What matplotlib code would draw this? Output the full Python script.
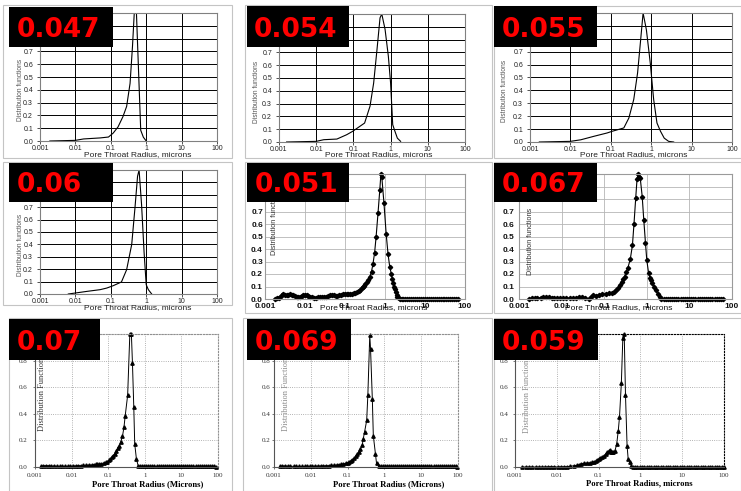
import matplotlib
matplotlib.use("Agg")
import matplotlib.pyplot as plt
from matplotlib.patches import Rectangle
from matplotlib.ticker import NullLocator

# ---------------- data ----------------
x_ticks = [0.001, 0.01, 0.1, 1, 10, 100]
x_ticklabels = ["0.001", "0.01", "0.1", "1", "10", "100"]
panel_labels = ["0.047", "0.054", "0.055", "0.06", "0.051", "0.067", "0.07", "0.069", "0.059"]

p047_x = [0.0019, 0.01, 0.017, 0.05, 0.086, 0.117, 0.16, 0.22, 0.28, 0.35, 0.41, 0.46, 0.53, 0.70, 0.83, 1.0]
p047_y = [0.0, 0.005, 0.016, 0.024, 0.031, 0.062, 0.11, 0.19, 0.27, 0.45, 0.74, 1.0, 1.0, 0.084, 0.03, 0.0]

p054_x = [0.0016, 0.01, 0.016, 0.036, 0.066, 0.095, 0.2, 0.28, 0.35, 0.43, 0.52, 0.58, 0.71, 0.87, 1.0, 1.14, 1.31, 1.52, 1.86]
p054_y = [0.0, 0.005, 0.018, 0.023, 0.057, 0.083, 0.148, 0.28, 0.46, 0.72, 0.97, 1.0, 0.88, 0.67, 0.46, 0.135, 0.083, 0.03, 0.005]

p055_x = [0.0017, 0.01, 0.018, 0.038, 0.081, 0.108, 0.21, 0.28, 0.37, 0.46, 0.54, 0.63, 0.76, 0.95, 1.15, 1.39, 1.7, 2.1, 2.7, 3.6]
p055_y = [0.0, 0.005, 0.017, 0.044, 0.07, 0.083, 0.109, 0.186, 0.33, 0.535, 0.77, 1.0, 0.87, 0.61, 0.33, 0.147, 0.083, 0.03, 0.005, 0.0]

p06_x = [0.0063, 0.01, 0.021, 0.05, 0.077, 0.117, 0.2, 0.28, 0.39, 0.48, 0.57, 0.63, 0.74, 0.87, 1.0, 1.15, 1.43]
p06_y = [0.0, 0.008, 0.021, 0.035, 0.048, 0.067, 0.097, 0.196, 0.4, 0.69, 0.95, 1.0, 0.72, 0.34, 0.075, 0.035, 0.0]

p051_pts = [(0.0018, 0.0), (0.002, 0.005), (0.0022, 0.01), (0.0024, 0.02), (0.0026, 0.03), (0.0029, 0.04),
            (0.0032, 0.035), (0.0035, 0.03), (0.0038, 0.035), (0.0042, 0.04), (0.0046, 0.035), (0.005, 0.03),
            (0.0056, 0.025), (0.0062, 0.02), (0.0068, 0.02), (0.0075, 0.02), (0.0082, 0.025), (0.009, 0.03),
            (0.01, 0.035), (0.011, 0.03), (0.012, 0.025), (0.013, 0.02), (0.015, 0.015), (0.017, 0.01),
            (0.019, 0.01), (0.021, 0.015), (0.024, 0.02), (0.027, 0.02), (0.03, 0.02), (0.034, 0.02),
            (0.038, 0.025), (0.042, 0.03), (0.047, 0.03), (0.052, 0.03), (0.058, 0.025), (0.064, 0.025),
            (0.071, 0.03), (0.08, 0.035), (0.09, 0.04), (0.1, 0.04), (0.11, 0.04), (0.12, 0.04),
            (0.135, 0.04), (0.15, 0.04), (0.165, 0.045), (0.18, 0.05), (0.2, 0.055), (0.22, 0.065),
            (0.24, 0.075), (0.26, 0.085), (0.28, 0.095), (0.3, 0.105), (0.32, 0.12), (0.35, 0.135),
            (0.38, 0.155), (0.42, 0.18), (0.46, 0.22), (0.5, 0.28), (0.55, 0.37), (0.6, 0.5),
            (0.67, 0.69), (0.74, 0.87), (0.79, 1.0), (0.83, 0.98), (0.94, 0.77), (1.07, 0.52),
            (1.19, 0.36), (1.31, 0.26), (1.44, 0.2), (1.52, 0.16), (1.6, 0.13), (1.68, 0.1),
            (1.76, 0.08), (1.85, 0.055), (1.95, 0.035), (2.05, 0.02), (2.2, 0.01), (2.4, 0.0),
            (2.6, 0.0), (2.9, 0.0), (3.2, 0.0), (3.6, 0.0), (4.0, 0.0), (4.5, 0.0), (5.0, 0.0),
            (5.6, 0.0), (6.3, 0.0), (7.0, 0.0), (7.9, 0.0), (8.8, 0.0), (9.9, 0.0), (11.0, 0.0),
            (12.4, 0.0), (13.9, 0.0), (15.5, 0.0), (17.4, 0.0), (19.5, 0.0), (21.8, 0.0), (24.5, 0.0),
            (27.4, 0.0), (30.7, 0.0), (34.4, 0.0), (38.5, 0.0), (43.1, 0.0), (48.3, 0.0), (54.1, 0.0),
            (60.6, 0.0), (68.0, 0.0)]

p067_pts = [(0.0017, 0.0), (0.002, 0.005), (0.0024, 0.005), (0.0027, 0.005), (0.0032, 0.01), (0.0037, 0.015),
            (0.0042, 0.02), (0.005, 0.015), (0.0058, 0.01), (0.0065, 0.01), (0.0078, 0.008), (0.009, 0.008),
            (0.011, 0.005), (0.013, 0.005), (0.016, 0.005), (0.019, 0.005), (0.022, 0.008), (0.026, 0.015),
            (0.03, 0.02), (0.036, 0.01), (0.043, 0.0), (0.05, 0.02), (0.055, 0.03), (0.065, 0.025),
            (0.075, 0.035), (0.09, 0.04), (0.11, 0.04), (0.13, 0.045), (0.15, 0.045), (0.17, 0.06),
            (0.19, 0.075), (0.21, 0.09), (0.23, 0.11), (0.26, 0.14), (0.28, 0.16), (0.3, 0.18),
            (0.33, 0.22), (0.36, 0.25), (0.41, 0.32), (0.46, 0.43), (0.5, 0.6), (0.55, 0.81),
            (0.59, 0.96), (0.63, 1.0), (0.66, 0.98), (0.7, 0.97), (0.78, 0.82), (0.85, 0.63),
            (0.93, 0.45), (1.0, 0.31), (1.1, 0.21), (1.18, 0.17), (1.25, 0.15), (1.35, 0.13),
            (1.5, 0.1), (1.65, 0.07), (1.8, 0.04), (2.0, 0.015), (2.2, 0.0), (2.5, 0.0), (2.8, 0.0),
            (3.1, 0.0), (3.5, 0.0), (3.9, 0.0), (4.4, 0.0), (4.9, 0.0), (5.5, 0.0), (6.2, 0.0),
            (6.9, 0.0), (7.8, 0.0), (8.7, 0.0), (9.8, 0.0), (11.0, 0.0), (12.3, 0.0), (13.8, 0.0),
            (15.5, 0.0), (17.4, 0.0), (19.5, 0.0), (21.9, 0.0), (24.6, 0.0), (27.6, 0.0), (31.0, 0.0),
            (34.8, 0.0), (39.0, 0.0), (43.8, 0.0), (49.1, 0.0), (55.1, 0.0), (62.0, 0.0)]

p07_pts = [(0.0015, 0.005), (0.0017, 0.01), (0.002, 0.01), (0.0024, 0.01), (0.0028, 0.005), (0.0033, 0.008),
           (0.004, 0.005), (0.0047, 0.005), (0.0056, 0.005), (0.0066, 0.005), (0.0078, 0.005), (0.0093, 0.005),
           (0.011, 0.008), (0.013, 0.008), (0.015, 0.01), (0.018, 0.01), (0.021, 0.012), (0.025, 0.012),
           (0.03, 0.015), (0.035, 0.015), (0.04, 0.018), (0.045, 0.02), (0.05, 0.02), (0.057, 0.022),
           (0.065, 0.025), (0.075, 0.03), (0.085, 0.035), (0.095, 0.04), (0.105, 0.05), (0.115, 0.06),
           (0.125, 0.075), (0.135, 0.085), (0.15, 0.1), (0.165, 0.12), (0.18, 0.14), (0.2, 0.16),
           (0.22, 0.19), (0.245, 0.23), (0.27, 0.3), (0.29, 0.38), (0.34, 0.54), (0.39, 1.0),
           (0.43, 1.0), (0.46, 0.78), (0.5, 0.45), (0.53, 0.175), (0.59, 0.06), (0.66, 0.01),
           (0.75, 0.005), (0.85, 0.005), (0.97, 0.005), (1.1, 0.005), (1.25, 0.005), (1.42, 0.005),
           (1.62, 0.005), (1.84, 0.005), (2.1, 0.005), (2.4, 0.005), (2.7, 0.005), (3.1, 0.005),
           (3.5, 0.005), (4.0, 0.005), (4.5, 0.005), (5.2, 0.005), (5.9, 0.005), (6.7, 0.005),
           (7.6, 0.005), (8.7, 0.005), (9.9, 0.005), (11.2, 0.005), (12.8, 0.005), (14.5, 0.005),
           (16.5, 0.005), (18.8, 0.005), (21.4, 0.005), (24.3, 0.005), (27.6, 0.005), (31.4, 0.005),
           (35.7, 0.005), (40.6, 0.005), (46.2, 0.005), (52.5, 0.005), (59.7, 0.005), (67.9, 0.005),
           (77.2, 0.005), (87.8, 0.003)]

p069_pts = [(0.0015, 0.005), (0.0017, 0.008), (0.002, 0.008), (0.0024, 0.006), (0.0028, 0.005), (0.0034, 0.005),
            (0.004, 0.004), (0.0048, 0.004), (0.0057, 0.004), (0.0068, 0.004), (0.008, 0.005), (0.0095, 0.005),
            (0.011, 0.006), (0.013, 0.006), (0.016, 0.007), (0.019, 0.008), (0.022, 0.008), (0.026, 0.01),
            (0.031, 0.01), (0.036, 0.012), (0.042, 0.012), (0.05, 0.015), (0.058, 0.017), (0.067, 0.02),
            (0.077, 0.023), (0.088, 0.028), (0.1, 0.033), (0.11, 0.038), (0.12, 0.045), (0.135, 0.055),
            (0.15, 0.065), (0.165, 0.08), (0.18, 0.095), (0.2, 0.115), (0.22, 0.135), (0.25, 0.165),
            (0.265, 0.21), (0.29, 0.265), (0.33, 0.35), (0.355, 0.54), (0.40, 0.99), (0.42, 0.89),
            (0.47, 0.51), (0.50, 0.235), (0.57, 0.1), (0.61, 0.03), (0.71, 0.005), (0.8, 0.005),
            (0.9, 0.005), (1.02, 0.005), (1.16, 0.005), (1.32, 0.005), (1.5, 0.005), (1.7, 0.005),
            (1.93, 0.005), (2.2, 0.005), (2.5, 0.005), (2.8, 0.005), (3.2, 0.005), (3.6, 0.005),
            (4.1, 0.005), (4.7, 0.005), (5.3, 0.005), (6.0, 0.005), (6.8, 0.005), (7.8, 0.005),
            (8.8, 0.005), (10.0, 0.005), (11.4, 0.005), (12.9, 0.005), (14.7, 0.005), (16.7, 0.005),
            (19.0, 0.005), (21.6, 0.005), (24.5, 0.005), (27.9, 0.005), (31.7, 0.005), (36.0, 0.005),
            (41.0, 0.005), (46.6, 0.005), (53.0, 0.005), (60.3, 0.005), (68.5, 0.005), (77.9, 0.005),
            (88.5, 0.005), (96.0, 0.003)]

p059_pts = [(0.0015, 0.0), (0.0018, 0.0), (0.0022, 0.0), (0.0026, 0.0), (0.0031, 0.0), (0.0037, 0.0),
            (0.0044, 0.0), (0.0052, 0.0), (0.0062, 0.002), (0.0074, 0.003), (0.0088, 0.002), (0.0105, 0.0),
            (0.0125, 0.002), (0.015, 0.002), (0.018, 0.003), (0.021, 0.005), (0.026, 0.01), (0.03, 0.012),
            (0.034, 0.015), (0.038, 0.025), (0.045, 0.028), (0.054, 0.03), (0.062, 0.032), (0.07, 0.035),
            (0.078, 0.04), (0.086, 0.045), (0.094, 0.05), (0.1, 0.06), (0.11, 0.07), (0.12, 0.075),
            (0.135, 0.085), (0.15, 0.1), (0.16, 0.11), (0.175, 0.12), (0.19, 0.13), (0.2, 0.11),
            (0.21, 0.11), (0.225, 0.115), (0.245, 0.12), (0.27, 0.17), (0.295, 0.27), (0.316, 0.375),
            (0.35, 0.63), (0.38, 0.97), (0.41, 1.0), (0.44, 0.54), (0.48, 0.16), (0.51, 0.06),
            (0.56, 0.04), (0.61, 0.01), (0.66, 0.0), (0.75, 0.0), (0.85, 0.0), (0.97, 0.0), (1.1, 0.0),
            (1.25, 0.0), (1.42, 0.0), (1.62, 0.0), (1.84, 0.0), (2.1, 0.0), (2.4, 0.0), (2.7, 0.0),
            (3.1, 0.0), (3.5, 0.0), (4.0, 0.0), (4.5, 0.0), (5.2, 0.0), (5.9, 0.0), (6.7, 0.0),
            (7.6, 0.0), (8.7, 0.0), (9.9, 0.0), (11.2, 0.0), (12.8, 0.0), (14.5, 0.0), (16.5, 0.0),
            (18.8, 0.0), (21.4, 0.0), (24.3, 0.0), (27.6, 0.0), (31.4, 0.0), (35.7, 0.0), (40.6, 0.0),
            (46.2, 0.0), (52.5, 0.0), (59.7, 0.0), (67.9, 0.0), (77.2, 0.0), (87.8, 0.0), (99.0, 0.0)]

# ---------------- layout ----------------
W, H = 741, 491
fig = plt.figure(figsize=(W / 100, H / 100), dpi=100)
fig.patch.set_facecolor("white")

SANS = ["Liberation Sans", "DejaVu Sans"]
SERIF = ["Liberation Serif", "DejaVu Serif"]


def unzip(pts):
    return [p[0] for p in pts], [p[1] for p in pts]


specs = [
    dict(lbl=0, x=p047_x, y=p047_y, st="A", box=(40, 13, 217, 141), frame=(3, 5, 232, 158),
         tag=(9, 7, 113, 47), tx=17, ylab=(20, 90), xlab=(138, 155), ypad=3.0),
    dict(lbl=1, x=p054_x, y=p054_y, st="A", box=(279, 14, 465, 142), frame=(245, 5, 492, 158),
         tag=(247, 6, 349, 47), tx=254, ylab=(256, 92), xlab=(379, 155), ypad=3.0),
    dict(lbl=2, x=p055_x, y=p055_y, st="A", box=(530, 13, 732, 142), frame=(494, 6, 741, 158),
         tag=(494, 6, 597, 47), tx=502, ylab=(504, 91), xlab=(634, 155), ypad=3.0),
    dict(lbl=3, x=p06_x, y=p06_y, st="A", box=(40, 170, 217, 294), frame=(3, 162, 232, 305),
         tag=(9, 163, 113, 202), tx=17, ylab=(20, 245), xlab=(138, 308), ypad=3.0),
    dict(lbl=4, pts=p051_pts, st="B", box=(265, 174, 465, 299), frame=(245, 162, 492, 313),
         tag=(247, 163, 349, 202), tx=255, ylabb=(275, 255), xlab=(374, 308), ypad=1.5),
    dict(lbl=5, pts=p067_pts, st="B", box=(519, 174, 732, 299), frame=(494, 162, 741, 313),
         tag=(494, 163, 597, 202), tx=502, ylabb=(530, 275), xlab=(619, 308), ypad=3.0),
    dict(lbl=6, pts=p07_pts, st="C", box=(35, 334, 218, 467), frame=(9, 318, 232, 491),
         tag=(9, 319, 100, 360), tx=17, ylabs=(42, 393, "Distribution Functions", "#333333"),
         xlab=(148, 484, "Pore Throat Radius (Microns)"), ypad=4.0),
    dict(lbl=7, pts=p069_pts, st="C", box=(274, 334, 458, 467), frame=(243, 318, 492, 491),
         tag=(247, 319, 351, 360), tx=255, ylabs=(286, 393, "Distribution Functions", "#8a8a8a"),
         xlab=(389, 484, "Pore Throat Radius (Microns)"), ypad=1.0),
    dict(lbl=8, pts=p059_pts, st="C", box=(515, 334, 724, 467), frame=(494, 318, 741, 491),
         tag=(494, 319, 598, 360), tx=502, ylabs=(527, 396, "Distribution Function", "#8a8a8a"),
         xlab=(639, 483, "Pore Throat Radius, microns"), ypad=3.0, dark_border=True),
]

ov = fig.add_axes([0, 0, 1, 1], zorder=10)
ov.set_xlim(0, W)
ov.set_ylim(H, 0)
ov.axis("off")
ov.patch.set_alpha(0)

for s in specs:
    l, t, r, b = s["box"]
    ax = fig.add_axes([l / W, 1 - b / H, (r - l) / W, (b - t) / H])
    ax.set_xscale("log")
    ax.set_xlim(1e-3, 100)
    ax.set_ylim(0, 1.0)
    ax.set_xticks(x_ticks)
    ax.set_xticklabels(x_ticklabels)
    ax.xaxis.set_minor_locator(NullLocator())
    ax.set_axisbelow(True)
    st = s["st"]
    if st == "A":
        yt = [i / 10 for i in range(11)]
        ax.set_yticks(yt)
        ax.set_yticklabels([f"{v:.1f}" for v in yt])
        ax.grid(True, color="black", lw=0.7)
        for sp in ax.spines.values():
            sp.set_color("#808080")
            sp.set_linewidth(0.8)
        ax.tick_params(length=2, width=0.6, colors="#333333", labelsize=5, pad=1.0)
        ax.tick_params(axis="y", pad=s["ypad"])
        for lab in ax.get_xticklabels() + ax.get_yticklabels():
            lab.set_family(SANS)
            lab.set_color("#222222")
        ax.plot(s["x"], s["y"], color="black", lw=0.8)
    elif st == "B":
        yt = [i / 10 for i in range(11)]
        ax.set_yticks(yt)
        ax.set_yticklabels([f"{v:.1f}" for v in yt])
        ax.grid(True, color="#b5b5b5", lw=0.6)
        for sp in ax.spines.values():
            sp.set_color("#9a9a9a")
            sp.set_linewidth(0.8)
        ax.tick_params(length=0, labelsize=6, pad=3)
        ax.tick_params(axis="y", pad=s["ypad"])
        for lab in ax.get_xticklabels() + ax.get_yticklabels():
            lab.set_family(SANS)
            lab.set_fontweight("bold")
            lab.set_color("#111111")
        xs, ys = unzip(s["pts"])
        ax.plot(xs, ys, color="black", lw=0.8, marker="D", ms=2.2, clip_on=False)
    else:
        yt = [0.0, 0.2, 0.4, 0.6, 0.8, 1.0]
        ax.set_yticks(yt)
        ax.set_yticklabels([f"{v:.1f}" for v in yt])
        ax.grid(True, color="#9a9a9a", lw=0.6, ls=":")
        bc = "black" if s.get("dark_border") else "#909090"
        for k in ("top", "right"):
            ax.spines[k].set_linestyle(":")
            ax.spines[k].set_color(bc)
            ax.spines[k].set_linewidth(0.8)
        for k in ("left", "bottom"):
            ax.spines[k].set_color("#555555")
            ax.spines[k].set_linewidth(0.8)
        ax.tick_params(length=1.5, width=0.5, labelsize=5, pad=2.5, colors="#444444")
        ax.tick_params(axis="y", pad=s["ypad"])
        for lab in ax.get_xticklabels() + ax.get_yticklabels():
            lab.set_family(SERIF)
            lab.set_color("#333333")
        xs, ys = unzip(s["pts"])
        ax.plot(xs, ys, color="black", lw=0.7, marker="^", ms=2.4, clip_on=False)

    # outer frame of each picture
    fl, ft, fr, fb = s["frame"]
    ov.add_patch(Rectangle((fl, ft), fr - fl, fb - ft, fill=False, ec="#c4c4c4", lw=0.8, zorder=0))

    # axis titles
    if st == "A":
        ov.text(s["ylab"][0], s["ylab"][1], "Distribution functions", rotation=90, ha="center",
                va="center", fontsize=4.8, color="#555555", family=SANS, zorder=2)
        ov.text(s["xlab"][0], s["xlab"][1], "Pore Throat Radius, microns", ha="center", va="center",
                fontsize=6, color="#222222", family=SANS, zorder=2)
    elif st == "B":
        ov.text(s["ylabb"][0], s["ylabb"][1], "Distribution functions", rotation=90, ha="center",
                va="bottom", fontsize=5.2, color="#333333", family=SANS, zorder=2)
        ov.text(s["xlab"][0], s["xlab"][1], "Pore Throat Radius, microns", ha="center", va="center",
                fontsize=6, color="#111111", family=SANS, zorder=2)
    else:
        xlx, yly, ylt, ylc = s["ylabs"]
        ov.text(xlx, yly, ylt, rotation=90, ha="center", va="center", fontsize=6,
                color=ylc, family=SERIF, zorder=2)
        ov.text(s["xlab"][0], s["xlab"][1], s["xlab"][2], ha="center", va="center", fontsize=6.2,
                fontweight="bold", color="black", family=SERIF, zorder=2)

    # black tag with red value
    gl, gt, gr, gb = s["tag"]
    ov.add_patch(Rectangle((gl, gt), gr - gl, gb - gt, facecolor="black", ec="none", zorder=5))
    ov.text(s["tx"], gb - 10, panel_labels[s["lbl"]], color="#ff0000", fontsize=19,
            fontweight="bold", family="DejaVu Sans", ha="left", va="baseline", zorder=6)

fig.savefig("out.png", dpi=100)
